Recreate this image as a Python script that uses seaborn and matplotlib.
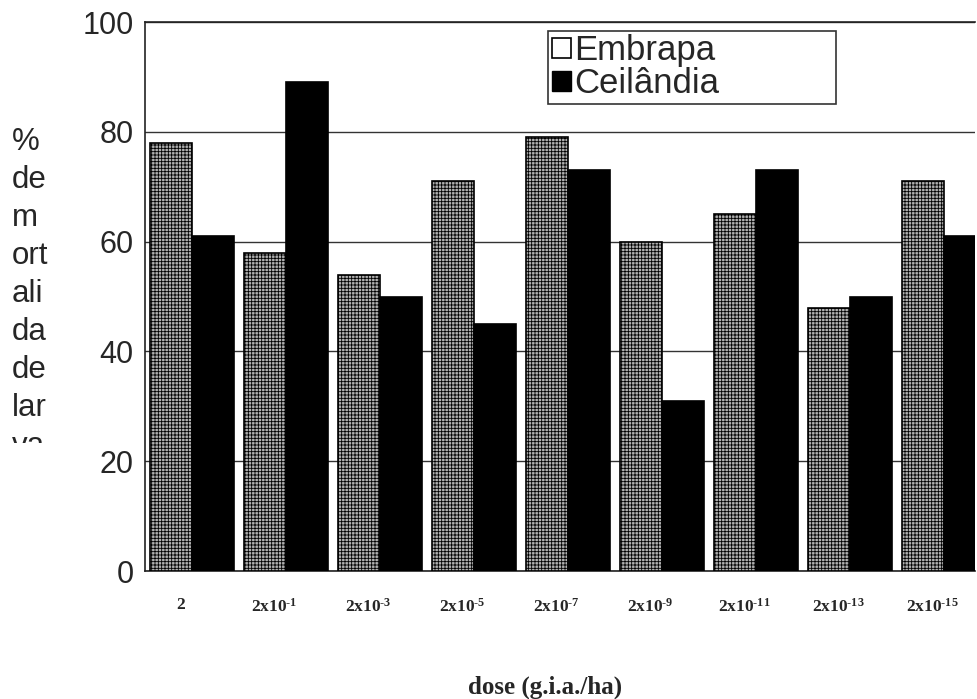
import numpy as np
import pandas as pd
import matplotlib
matplotlib.use("Agg")
import matplotlib.pyplot as plt
import seaborn as sns
from matplotlib.patches import Patch
from matplotlib.transforms import Bbox, TransformedBbox

# doses (g.i.a./ha) and % mortality for both populations
doses = ["2", "2x10$^{\\text{-1}}$", "2x10$^{\\text{-3}}$", "2x10$^{\\text{-5}}$",
         "2x10$^{\\text{-7}}$", "2x10$^{\\text{-9}}$", "2x10$^{\\text{-11}}$",
         "2x10$^{\\text{-13}}$", "2x10$^{\\text{-15}}$"]
embrapa = [78, 58, 54, 71, 79, 60, 65, 48, 71]
ceilandia = [61, 89, 50, 45, 73, 31, 73, 50, 61]
populations = ["Embrapa", "Ceilândia"]

df = pd.DataFrame({
    "dose": doses * 2,
    "mort": embrapa + ceilandia,
    "pop": [populations[0]] * len(doses) + [populations[1]] * len(doses),
})

sns.set_style("white")
plt.rcParams["font.family"] = ["Liberation Sans", "DejaVu Sans"]
plt.rcParams["mathtext.fontset"] = "custom"
plt.rcParams["mathtext.rm"] = "Liberation Serif:bold"
plt.rcParams["mathtext.it"] = "Liberation Serif:bold"
plt.rcParams["mathtext.bf"] = "Liberation Serif:bold"
plt.rcParams["hatch.color"] = "#6e6e6e"
plt.rcParams["hatch.linewidth"] = 0.6

fig = plt.figure(figsize=(9.78, 6.99), dpi=100)
ax = fig.add_axes([0.148, 0.183, 0.849, 0.7855])

sns.barplot(data=df, x="dose", y="mort", hue="pop", order=doses,
            hue_order=populations, palette=["#b0b0b0", "#000000"],
            width=0.89, gap=0, edgecolor="black", linewidth=1.2,
            saturation=1, legend=False, ax=ax, zorder=3)

n = len(doses)
for p in ax.patches[:n]:
    p.set_hatch("+++++")

ax.set_ylim(0, 100)
ax.set_xlim(-0.5, 8.33)
ax.set_yticks([0, 20, 40, 60, 80, 100])
ax.tick_params(axis="y", labelsize=22, length=0, pad=8)
ax.yaxis.grid(True, color="#333333", linewidth=1.0, zorder=0)
ax.set_axisbelow(True)

ax.set_xticks(np.arange(n) - 0.12)
ax.set_xticklabels(doses, fontfamily="Liberation Serif", fontweight="bold",
                   fontsize=12.5)
ax.tick_params(axis="x", length=0, pad=19)
ax.set_xlabel("")
ax.set_ylabel("")

for side in ["left", "bottom", "top"]:
    ax.spines[side].set_color("#222222")
    ax.spines[side].set_linewidth(1.2)
ax.spines["right"].set_visible(False)

handles = [Patch(facecolor="white", edgecolor="black", linewidth=1.2),
           Patch(facecolor="black", edgecolor="black")]
leg = ax.legend(handles, populations, loc="upper left",
                bbox_to_anchor=(0.486, 0.984, 0.347, 0.0), mode="expand",
                fontsize=25, frameon=True, fancybox=False, edgecolor="black",
                handlelength=0.55, handleheight=0.55, handletextpad=0.1,
                borderpad=0.1, labelspacing=0.0, borderaxespad=0)
leg.get_frame().set_linewidth(1.2)

# stacked y label, last syllable cut at the bottom
ylab = fig.text(0.012, 0.818, "%\nde\nm\nort\nali\nda\nde\nlar\nva",
                fontsize=22.5, ha="left", va="top", linespacing=1.345)
ylab.set_clip_box(TransformedBbox(Bbox([[0, 0.366], [0.14, 1.0]]),
                                  fig.transFigure))

fig.text(0.557, 0.0, "dose (g.i.a./ha)", fontfamily="Liberation Serif",
         fontweight="bold", fontsize=18, ha="center", va="bottom")

fig.savefig("out.png", dpi=100)
